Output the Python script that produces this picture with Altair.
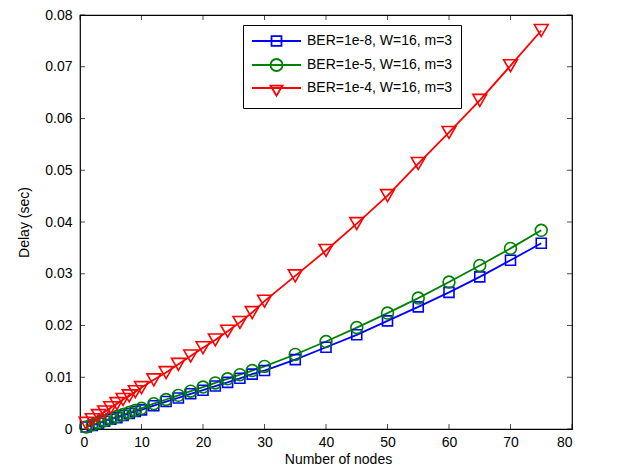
import altair as alt
import pandas as pd

nodes = [1, 2, 3, 4, 5, 6, 7, 8, 9, 10,
         12, 14, 16, 18, 20, 22, 24, 26, 28, 30,
         35, 40, 45, 50, 55, 60, 65, 70, 75]

delay_1e8 = [0.0004, 0.0007, 0.0011, 0.0015, 0.0019, 0.0022, 0.0026, 0.0030, 0.0034, 0.0037,
             0.0045, 0.0053, 0.0060, 0.0068, 0.0075, 0.0083, 0.0090, 0.0098, 0.0106, 0.0113,
             0.0134, 0.0158, 0.0182, 0.0209, 0.0236, 0.0264, 0.0294, 0.0326, 0.0359]

delay_1e5 = [0.0004, 0.0008, 0.0012, 0.0016, 0.0020, 0.0024, 0.0028, 0.0032, 0.0036, 0.0040,
             0.0049, 0.0057, 0.0065, 0.0073, 0.0081, 0.0089, 0.0097, 0.0105, 0.0113, 0.0121,
             0.0144, 0.0169, 0.0196, 0.0224, 0.0253, 0.0284, 0.0316, 0.0349, 0.0384]

delay_1e4 = [0.0011, 0.0018, 0.0026, 0.0033, 0.0041, 0.0049, 0.0057, 0.0064, 0.0072, 0.0080,
             0.0095, 0.0109, 0.0125, 0.0141, 0.0157, 0.0172, 0.0189, 0.0206, 0.0225, 0.0247,
             0.0296, 0.0345, 0.0397, 0.0451, 0.0513, 0.0573, 0.0635, 0.0702, 0.0770]

series_names = ["BER=1e-8, W=16, m=3", "BER=1e-5, W=16, m=3", "BER=1e-4, W=16, m=3"]
series_colors = ["#0000ff", "#008000", "#ff0000"]
series_values = [delay_1e8, delay_1e5, delay_1e4]
marker_shapes = ["square", "circle", "triangle-down"]
marker_sizes = [100, 140, 190]

x_ticks = [0, 10, 20, 30, 40, 50, 60, 70, 80]
y_ticks = [0, 0.01, 0.02, 0.03, 0.04, 0.05, 0.06, 0.07, 0.08]

# legend symbols (unit = 7 px): line segment 49 px long with the marker in its middle
legend_paths = [
    "M-1,0L6,0M1.79,-0.71L3.21,-0.71L3.21,0.71L1.79,0.71Z",
    "M-1,0L6,0M3.36,0A0.86,0.86,0,1,1,1.64,0A0.86,0.86,0,1,1,3.36,0",
    "M-1,0L6,0M1.64,-0.35L3.36,-0.35L2.5,1.1Z",
]

rows = []
for name, vals in zip(series_names, series_values):
    for n, v in zip(nodes, vals):
        rows.append({"x": n, "y": v, "series": name})
df = pd.DataFrame(rows)

xt_df = pd.DataFrame({"t": x_ticks})
yt_df = pd.DataFrame({"t": y_ticks})

W, H = 492, 414
FONT = "Liberation Sans"

xscale = alt.Scale(domain=[0, 80], nice=False, zero=False)
yscale = alt.Scale(domain=[0, 0.08], nice=False, zero=False)
cscale = alt.Scale(domain=series_names, range=series_colors)

base = alt.Chart(df)

main_x_axis = alt.Axis(orient="bottom", values=x_ticks, ticks=False, domain=False, grid=False,
                       labelPadding=6, labelFont=FONT, labelFontSize=14, labelColor="black",
                       title="Number of nodes", titleFont=FONT, titleFontSize=14,
                       titleFontWeight="normal", titleColor="black",
                       titleX=258, titleY=34, titleBaseline="alphabetic")
main_y_axis = alt.Axis(orient="left", values=y_ticks, ticks=False, domain=False, grid=False,
                       format=".2~f", labelPadding=8, labelFont=FONT, labelFontSize=14,
                       labelColor="black", title="Delay (sec)", titleFont=FONT, titleFontSize=14,
                       titleFontWeight="normal", titleColor="black", titlePadding=13)

lines = base.mark_line(strokeWidth=1.8).encode(
    x=alt.X("x:Q", scale=xscale, axis=main_x_axis),
    y=alt.Y("y:Q", scale=yscale, axis=main_y_axis),
    color=alt.Color("series:N", scale=cscale),
    detail="series:N",
)

marker_layers = []
for name, shp, sz in zip(series_names, marker_shapes, marker_sizes):
    marker_layers.append(
        base.transform_filter(alt.datum.series == name)
        .mark_point(shape=shp, size=sz, filled=False, strokeWidth=1.6, opacity=1)
        .encode(
            x=alt.X("x:Q", scale=xscale, axis=None),
            y=alt.Y("y:Q", scale=yscale, axis=None),
            color=alt.Color("series:N", scale=cscale),
        )
    )

legend_layer = base.transform_filter(alt.datum.x < 0).mark_point(filled=False, strokeWidth=1.8).encode(
    x=alt.X("x:Q", scale=xscale, axis=None),
    y=alt.Y("y:Q", scale=yscale, axis=None),
    color=alt.Color("series:N", scale=cscale, legend=alt.Legend(
        title=None, orient="none", legendX=163, legendY=10,
        padding=8, strokeColor="black", fillColor="white", cornerRadius=0,
        labelFont=FONT, labelFontSize=14, labelColor="black", labelOffset=40,
        symbolSize=196, symbolStrokeWidth=1.8, symbolFillColor="transparent",
        symbolOpacity=1, rowPadding=5, labelLimit=400)),
    shape=alt.Shape("series:N", scale=alt.Scale(domain=series_names, range=legend_paths)),
)

# inward tick marks on all four sides of the frame
tick_bottom = alt.Chart(xt_df).mark_tick(orient="vertical", size=5, thickness=1, color="black",
                                         yOffset=-2.5).encode(
    x=alt.X("t:Q", scale=xscale, axis=None), y=alt.Y(datum=0, scale=yscale, axis=None))
tick_top = alt.Chart(xt_df).mark_tick(orient="vertical", size=5, thickness=1, color="black",
                                      yOffset=2.5).encode(
    x=alt.X("t:Q", scale=xscale, axis=None), y=alt.Y(datum=0.08, scale=yscale, axis=None))
tick_left = alt.Chart(yt_df).mark_tick(orient="horizontal", size=5, thickness=1, color="black",
                                       xOffset=2.5).encode(
    y=alt.Y("t:Q", scale=yscale, axis=None), x=alt.X(datum=0, scale=xscale, axis=None))
tick_right = alt.Chart(yt_df).mark_tick(orient="horizontal", size=5, thickness=1, color="black",
                                        xOffset=-2.5).encode(
    y=alt.Y("t:Q", scale=yscale, axis=None), x=alt.X(datum=80, scale=xscale, axis=None))

chart = alt.layer(lines, *marker_layers, legend_layer,
                  tick_bottom, tick_top, tick_left, tick_right).resolve_axis(
    x="independent", y="independent"
).properties(
    width=W, height=H, autosize="none",
    padding={"left": 72, "top": 7, "right": 42, "bottom": 37},
    background="white",
).configure_view(stroke="black", strokeWidth=1.2)

chart.save("out.html", embed_options={"renderer": "svg", "actions": False})
